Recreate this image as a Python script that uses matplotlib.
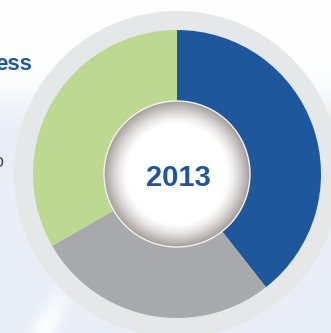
import numpy as np
import matplotlib.pyplot as plt
from matplotlib.patches import Circle

# share of each segment, clockwise from 12 o'clock
shares = [39.4, 27.3, 33.3]
seg_colors = ['#1f579c', '#a8a9ac', '#bdd991']
year_label = '2013'

W, H = 331, 333
fig = plt.figure(figsize=(W / 100, H / 100), dpi=100)
ax = fig.add_axes([0, 0, 1, 1])

# pixel-like coordinates, y pointing up
cx, cy = 177, H - 174
r_outer, r_pie, r_hole = 163, 144, 73

# soft pale-blue wash on the left side of the page
yy, xx = np.mgrid[0:H, 0:W].astype(float)
wash = 1 / (1 + np.exp(-(yy - 100) / 12))
streak = np.exp(-(((xx - 48) + 0.5 * (yy - 320)) / 14) ** 2 - ((yy - 330) / 40) ** 2)
wash = np.clip(wash - 0.9 * streak, 0, 1)
bg = np.ones((H, W, 3))
blue = np.array([0.91, 0.93, 0.965])
bg = bg * (1 - wash[..., None]) + blue * wash[..., None]
ax.imshow(bg, extent=(0, W, 0, H), origin='upper', zorder=0)

# light grey frame ring
ax.add_patch(Circle((cx, cy), r_outer, color='#e6e7e9', zorder=1, lw=0))

wedges, _ = ax.pie(shares, colors=seg_colors, startangle=90, counterclock=False,
                   center=(cx, cy), radius=r_pie, wedgeprops=dict(linewidth=0))
for w in wedges:
    w.set_zorder(2)

# shaded white hub
n = 300
gy, gx = np.mgrid[-1:1:n * 1j, -1:1:n * 1j]
rr = np.sqrt(gx ** 2 + gy ** 2)
t = np.clip((rr - 0.68) / 0.32, 0, 1) ** 1.4
edge = np.array([0.64, 0.61, 0.60])
hub = np.ones((n, n, 3)) * (1 - t[..., None]) + edge * t[..., None]
img = ax.imshow(hub, extent=(cx - r_hole, cx + r_hole, cy - r_hole, cy + r_hole),
                origin='lower', zorder=3, interpolation='bilinear')
clip = Circle((cx, cy), r_hole, transform=ax.transData)
img.set_clip_path(clip)
ax.add_patch(Circle((cx, cy), r_hole, fill=False, ec='#f4f2f1', lw=1.0, zorder=4))

ax.text(cx + 1, cy - 4, year_label, ha='center', va='center', fontsize=21,
        fontweight='bold', color='#1f579c', family='Liberation Sans', zorder=5)

# cut-off heading text on the left
ax.text(32, H - 70, 'ess', ha='right', va='baseline', fontsize=16,
        fontweight='bold', color='#1f579c', family='Liberation Sans', zorder=5)
ax.text(3, H - 167, 'o', ha='right', va='baseline', fontsize=13,
        color='#4a4a4a', family='Liberation Sans', zorder=5)

ax.set_xlim(0, W)
ax.set_ylim(0, H)
ax.set_aspect('equal')
ax.axis('off')

fig.savefig('out.png', dpi=100)
